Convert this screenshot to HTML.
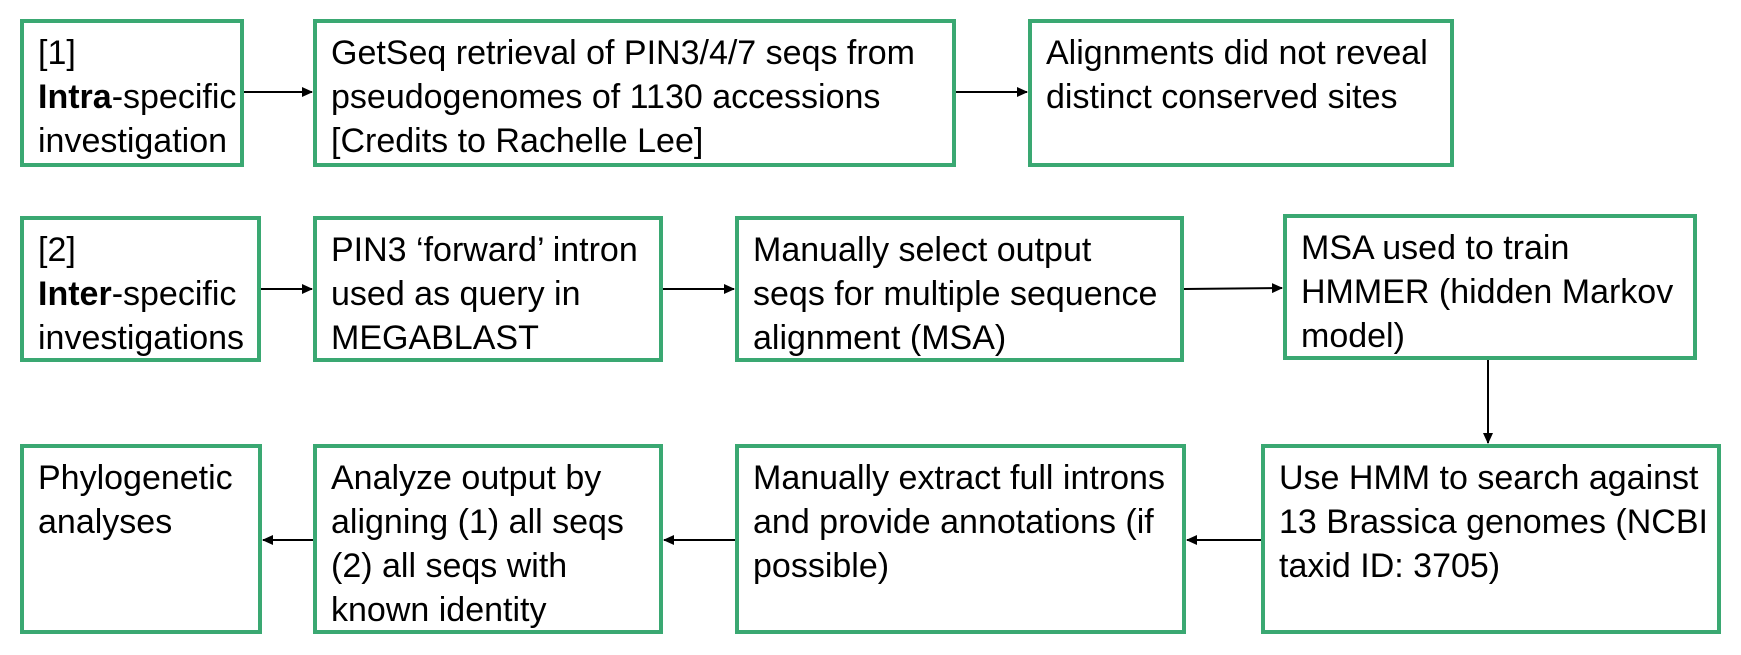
<!DOCTYPE html>
<html><head><meta charset="utf-8"><style>
body{margin:0;width:1741px;height:655px;background:#fff;position:relative;overflow:hidden;font-family:"Liberation Sans",sans-serif;}
.b{position:absolute;box-sizing:border-box;border:4px solid #3aa872;padding:8px 14px;font-size:34px;line-height:44px;color:#000;white-space:nowrap;letter-spacing:0px}
svg{position:absolute;left:0;top:0}
</style></head><body>
<div class="b" style="left:20px;top:19px;width:224px;height:148px">[1]<br><b style="font-weight:600">Intra</b>-specific<br>investigation</div>
<div class="b" style="left:313px;top:19px;width:643px;height:148px">GetSeq retrieval of PIN3/4/7 seqs from<br>pseudogenomes of 1130 accessions<br>[Credits to Rachelle Lee]</div>
<div class="b" style="left:1028px;top:19px;width:426px;height:148px">Alignments did not reveal<br>distinct conserved sites</div>
<div class="b" style="left:20px;top:216px;width:241px;height:146px">[2]<br><b style="font-weight:600">Inter</b>-specific<br>investigations</div>
<div class="b" style="left:313px;top:216px;width:350px;height:146px">PIN3 ‘forward’ intron<br>used as query in<br>MEGABLAST</div>
<div class="b" style="left:735px;top:216px;width:449px;height:146px">Manually select output<br>seqs for multiple sequence<br>alignment (MSA)</div>
<div class="b" style="left:1283px;top:214px;width:414px;height:146px">MSA used to train<br>HMMER (hidden Markov<br>model)</div>
<div class="b" style="left:20px;top:444px;width:242px;height:190px">Phylogenetic<br>analyses</div>
<div class="b" style="left:313px;top:444px;width:350px;height:190px">Analyze output by<br>aligning (1) all seqs<br>(2) all seqs with<br>known identity</div>
<div class="b" style="left:735px;top:444px;width:451px;height:190px">Manually extract full introns<br>and provide annotations (if<br>possible)</div>
<div class="b" style="left:1261px;top:444px;width:460px;height:190px">Use HMM to search against<br>13 Brassica genomes (NCBI<br>taxid ID: 3705)</div>
<svg width="1741" height="655">
<defs><marker id="a" markerWidth="11" markerHeight="10" refX="10" refY="5" orient="auto" markerUnits="userSpaceOnUse"><path d="M0,0 L11,5 L0,10z" fill="#000"/></marker></defs>
<g stroke="#000" stroke-width="2" fill="none" marker-end="url(#a)">
<line x1="244" y1="92" x2="312" y2="92"/>
<line x1="956" y1="92" x2="1027" y2="92"/>
<line x1="261" y1="289" x2="312" y2="289"/>
<line x1="663" y1="289" x2="734" y2="289"/>
<line x1="1184" y1="289" x2="1282" y2="288"/>
<line x1="1488" y1="360" x2="1488" y2="443"/>
<line x1="1261" y1="540" x2="1187" y2="540"/>
<line x1="735" y1="540" x2="664" y2="540"/>
<line x1="313" y1="540" x2="263" y2="540"/>
</g></svg>
</body></html>
